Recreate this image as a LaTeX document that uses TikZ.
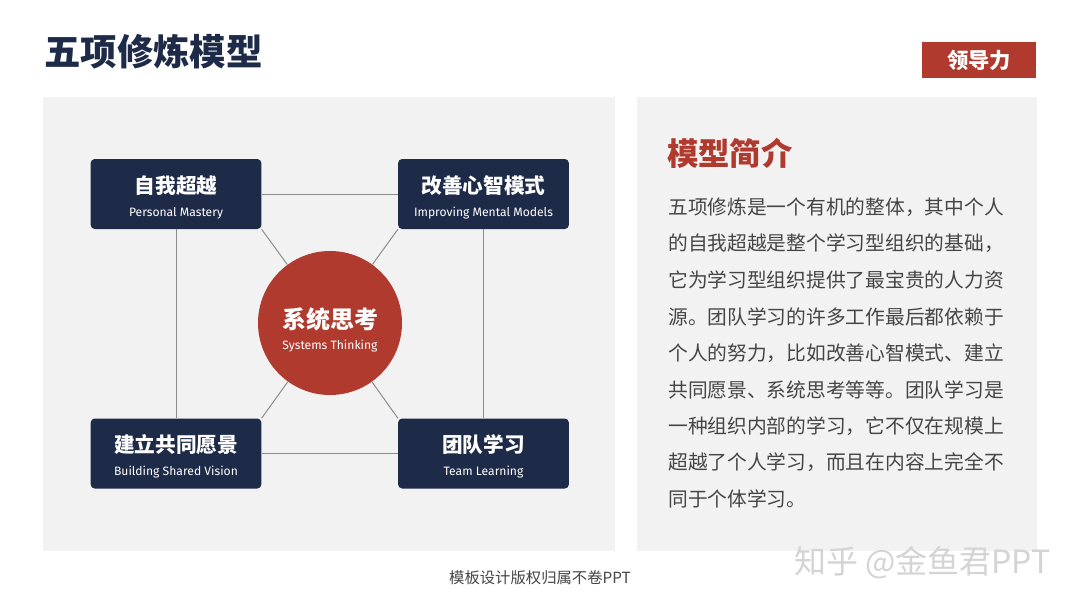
\documentclass[tikz,border=0pt]{standalone}
\usepackage{fontspec}
\setmainfont{Noto Sans CJK SC}
\newfontfamily\en{Fira Sans}
\definecolor{navy}{HTML}{1E2B48}
\definecolor{brick}{HTML}{B03A2E}
\definecolor{panel}{HTML}{F2F2F2}
\definecolor{conn}{HTML}{8C8C8C}
\definecolor{body}{HTML}{454545}
\definecolor{wm}{HTML}{D4D4D4}
\tikzset{
  box/.style={fill=navy, rounded corners=3pt, minimum width=128pt, minimum height=52.5pt, inner sep=0pt},
  zh/.style={text=white, font=\fontsize{15.5}{17}\selectfont\bfseries, inner sep=0pt},
  ensub/.style={text=white, font=\en\fontsize{9.1}{10}\selectfont, inner sep=0pt},
  connector/.style={draw=conn, line width=0.75pt},
  bodyline/.style={anchor=west, inner sep=0pt, text=body, font=\fontsize{14.8}{16}\selectfont}
}
\begin{document}
\begin{tikzpicture}[x=0.75pt,y=-0.75pt]
\useasboundingbox (0,0) rectangle (1080,607);
\fill[white] (0,0) rectangle (1080,607);
% title and badge
\node[anchor=west, inner sep=0pt, text=navy, font=\fontsize{27.3}{29}\selectfont\bfseries] (title) at (44,52) {五项修炼模型};
\node[fill=brick, minimum width=85.5pt, minimum height=27pt, inner sep=0pt, text=white, font=\fontsize{16}{17}\selectfont\bfseries] (badge) at (979,60) {领导力};
% panels
\fill[panel] (43,97) rectangle (615,551);
\fill[panel] (637,97) rectangle (1037,551);
% boxes
\node[box] (tl) at (176,194) {};
\node[box] (tr) at (483.5,194) {};
\node[box] (bl) at (176,453.5) {};
\node[box] (br) at (483.5,453.5) {};
\node[circle, fill=brick, minimum size=108pt, inner sep=0pt] (c) at (330,323) {};
% connectors
\draw[connector] (tl.east) -- (tr.west);
\draw[connector] (bl.east) -- (br.west);
\draw[connector] (tl.south) -- (bl.north);
\draw[connector] (tr.south) -- (br.north);
\draw[connector] (tl.south east) -- (c);
\draw[connector] (tr.south west) -- (c);
\draw[connector] (bl.north east) -- (c);
\draw[connector] (br.north west) -- (c);
% box texts
\node[zh] (tlzh) at (176,186) {自我超越};
\node[ensub] (tlen) at (176,213) {Personal Mastery};
\node[zh] (trzh) at (483.5,186) {改善心智模式};
\node[ensub] (tren) at (483.5,213) {Improving Mental Models};
\node[zh] (blzh) at (176,445) {建立共同愿景};
\node[ensub] (blen) at (176,472) {Building Shared Vision};
\node[zh] (brzh) at (483.5,445) {团队学习};
\node[ensub] (bren) at (483.5,472) {Team Learning};
\node[text=white, font=\fontsize{18}{20}\selectfont\bfseries, inner sep=0pt] (czh) at (330,319) {系统思考};
\node[ensub] (cen) at (330,346) {Systems Thinking};
% right panel
\node[anchor=west, inner sep=0pt, text=brick, font=\fontsize{23.5}{25}\selectfont\bfseries] (head) at (667,153) {模型简介};
\node[bodyline] (l1) at (668,207) {五项修炼是一个有机的整体，其中个人};
\node[bodyline] (l2) at (668,243.5) {的自我超越是整个学习型组织的基础，};
\node[bodyline] (l3) at (668,280) {它为学习型组织提供了最宝贵的人力资};
\node[bodyline] (l4) at (668,316.5) {源。团队学习的许多工作最后都依赖于};
\node[bodyline] (l5) at (668,353) {个人的努力，比如改善心智模式、建立};
\node[bodyline] (l6) at (668,389.5) {共同愿景、系统思考等等。团队学习是};
\node[bodyline] (l7) at (668,426) {一种组织内部的学习，它不仅在规模上};
\node[bodyline] (l8) at (668,462.5) {超越了个人学习，而且在内容上完全不};
\node[bodyline] (l9) at (668,499) {同于个体学习。};
% footer
\node[inner sep=0pt, text=body, font=\fontsize{11.5}{13}\selectfont] (foot) at (540,578) {模板设计版权归属不卷PPT};
\node[anchor=west, inner sep=0pt, text=wm, font=\fontsize{24}{26}\selectfont] (mark) at (794,563) {知乎 @金鱼君PPT};
\end{tikzpicture}
\end{document}
